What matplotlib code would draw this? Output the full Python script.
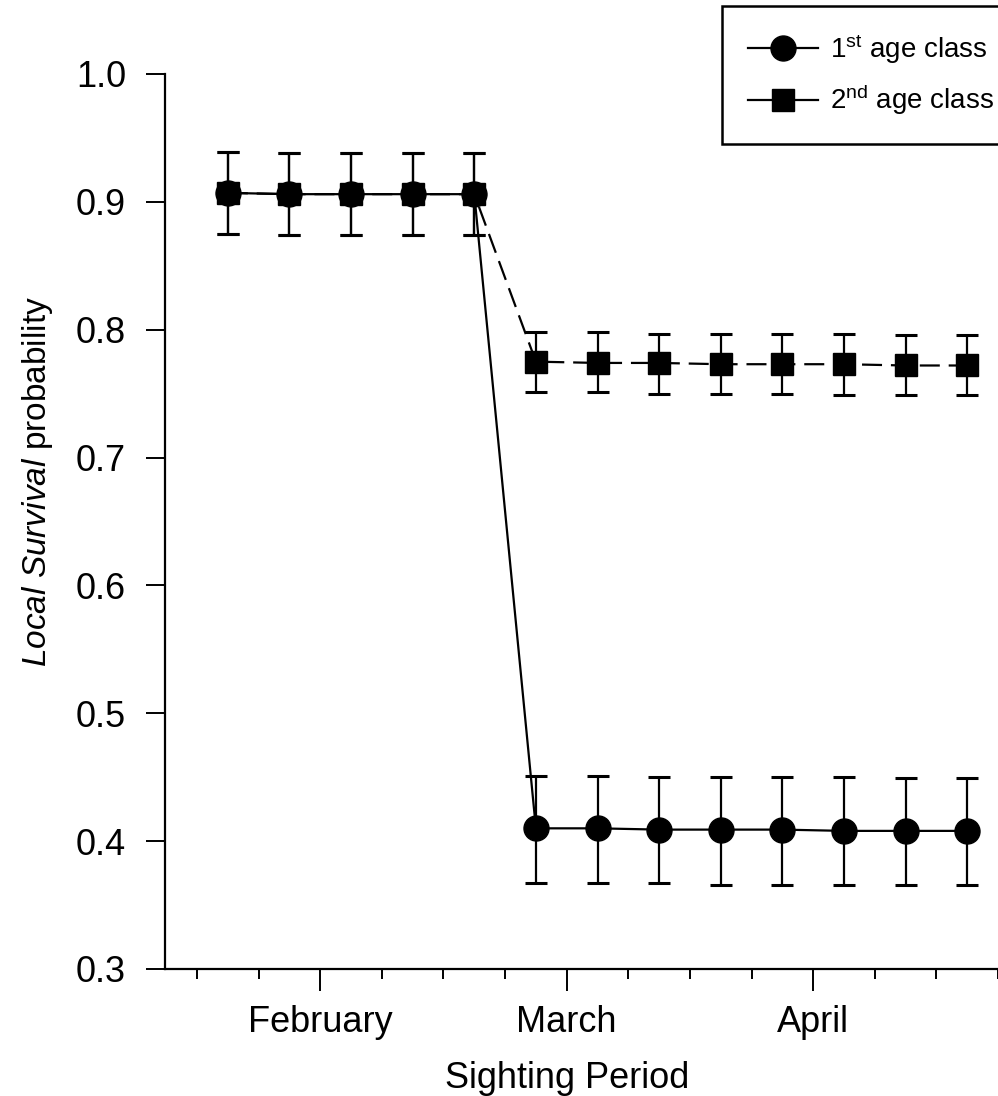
import numpy as np
import matplotlib
matplotlib.use("Agg")
import matplotlib.pyplot as plt
from matplotlib.lines import Line2D

plt.rcParams['font.family'] = ['Liberation Sans', 'DejaVu Sans']
plt.rcParams['mathtext.fontset'] = 'custom'
plt.rcParams['mathtext.rm'] = 'Liberation Sans'
plt.rcParams['mathtext.it'] = 'Liberation Sans:italic'

# sighting periods (index), month labels sit between them
periods = np.arange(13)
month_pos = [1.5, 5.5, 9.5]
months = ['February', 'March', 'April']

# 1st age class: estimate, lower and upper bounds
surv1 = [0.907, 0.906, 0.906, 0.906, 0.906, 0.410, 0.410, 0.409, 0.409, 0.409, 0.408, 0.408, 0.408]
low1 = [0.875, 0.874, 0.874, 0.874, 0.874, 0.367, 0.367, 0.367, 0.366, 0.366, 0.366, 0.366, 0.366]
high1 = [0.939, 0.938, 0.938, 0.938, 0.938, 0.451, 0.451, 0.450, 0.450, 0.450, 0.450, 0.449, 0.449]

# 2nd age class
surv2 = [0.907, 0.906, 0.906, 0.906, 0.906, 0.775, 0.774, 0.774, 0.773, 0.773, 0.773, 0.772, 0.772]
low2 = [0.875, 0.874, 0.874, 0.874, 0.874, 0.751, 0.751, 0.750, 0.750, 0.750, 0.749, 0.749, 0.749]
high2 = [0.939, 0.938, 0.938, 0.938, 0.938, 0.798, 0.798, 0.797, 0.797, 0.797, 0.797, 0.796, 0.796]

fig = plt.figure(figsize=(9.98, 10.96), dpi=100)
ax = fig.add_axes([0.1653, 0.1159, 0.8347, 0.8166])

def draw(surv, low, high, marker, ms, ls):
    surv = np.array(surv)
    err = [surv - np.array(low), np.array(high) - surv]
    line = ax.errorbar(periods, surv, yerr=err, fmt=marker, color='black',
                       markersize=ms, linestyle=ls, linewidth=1.6,
                       elinewidth=1.6, capsize=8, capthick=2.2)
    return line

l2 = draw(surv2, low2, high2, 's', 16, (0, (9, 4)))
l1 = draw(surv1, low1, high1, 'o', 18, '-')

ax.set_xlim(-1.02, 12.5)
ax.set_ylim(0.3, 1.0)
ax.spines['top'].set_visible(False)
ax.spines['right'].set_visible(False)
for s in ['left', 'bottom']:
    ax.spines[s].set_linewidth(1.6)

ax.set_yticks(np.arange(0.3, 1.01, 0.1))
ax.set_yticklabels(['%.1f' % v for v in np.arange(0.3, 1.01, 0.1)])
ax.set_xticks(month_pos)
ax.set_xticklabels(months)
ax.set_xticks(np.arange(-0.5, 12.6, 1), minor=True)
ax.tick_params(axis='y', length=14, width=1.4, labelsize=26, pad=14)
ax.tick_params(axis='x', which='major', length=16, width=1.4, labelsize=26, pad=10)
ax.tick_params(axis='x', which='minor', length=7, width=1.4)

ax.set_xlabel('Sighting Period', fontsize=26)
ax.xaxis.set_label_coords(0.483, -0.103)
ax.set_ylabel('$\\mathit{Local\\ Survival}$ probability', fontsize=24)
ax.yaxis.set_label_coords(-0.132, 0.545)

handles = [Line2D([], [], color='black', marker='o', markersize=18, linewidth=1.6),
           Line2D([], [], color='black', marker='s', markersize=16, linewidth=1.6)]
labels = ['1$^{\\mathrm{st}}$ age class', '2$^{\\mathrm{nd}}$ age class']
leg = fig.legend(handles, labels, loc='upper left', bbox_to_anchor=(722 / 998, 1 - 6 / 1096),
                 fontsize=20, frameon=True, fancybox=False, edgecolor='black',
                 framealpha=1, handlelength=2.5, handletextpad=0.45,
                 borderpad=0.95, labelspacing=0.6, borderaxespad=0)
leg.get_frame().set_linewidth(1.8)

fig.savefig('out.png', dpi=100)
